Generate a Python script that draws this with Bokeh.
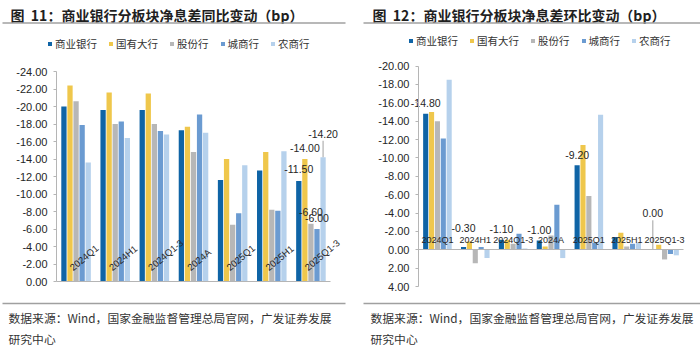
import numpy as np
from bokeh.plotting import figure
from bokeh.models import (Range1d, LinearAxis, FixedTicker, PrintfTickFormatter,
                          Legend, LegendItem)
from bokeh.layouts import row
from bokeh.embed import file_html
from bokeh.resources import INLINE
from bokeh.core.properties import value

# ---------------- data ----------------
categories = ["2024Q1", "2024H1", "2024Q1-3", "2024A", "2025Q1", "2025H1", "2025Q1-3"]
series_names = ["商业银行", "国有大行", "股份行", "城商行", "农商行"]

# 图11 同比变动 (bp)
yoy_commercial = [-20.0, -19.6, -19.6, -17.3, -11.6, -12.7, -11.5]
yoy_state = [-22.4, -21.6, -21.5, -17.7, -14.0, -14.8, -14.0]
yoy_joint = [-20.6, -18.0, -18.0, -14.8, -6.5, -8.2, -6.6]
yoy_city = [-17.9, -18.3, -17.2, -19.1, -7.8, -8.1, -6.0]
yoy_rural = [-13.6, -16.4, -16.8, -17.0, -13.3, -14.9, -14.2]

# 图12 环比变动 (bp)
qoq_commercial = [-14.8, -0.3, -1.1, -1.0, -9.2, -1.4, 0.0]
qoq_state = [-15.0, -0.9, -1.1, -0.35, -11.4, -1.85, -0.55]
qoq_joint = [-14.0, 1.45, -0.65, -1.55, -5.85, -0.35, 1.05]
qoq_city = [-12.1, -0.3, -1.75, -4.9, -0.8, -0.65, 0.45]
qoq_rural = [-18.5, 0.9, -0.15, 0.9, -14.7, -0.8, 0.6]

yoy_ticks = list(range(0, -26, -2))
qoq_ticks = list(range(4, -22, -2))

title_left = "图\u00a0\u00a011：商业银行分板块净息差同比变动（bp）"
title_right = "图\u00a0\u00a012：商业银行分板块净息差环比变动（bp）"
source_line1 = "数据来源：Wind，国家金融监督管理总局官网，广发证券发展"
source_line2 = "研究中心"

# ---------------- style ----------------
colors = ["#0f64a6", "#efc74c", "#b7b7b7", "#6b9bd1", "#b6d1ec"]
CJK = "Noto Sans CJK SC"
NUM = "Liberation Sans"
AXIS_COLOR = "#b5b5b5"
RULE_COLOR = "#a0a0a0"
TEXT_COLOR = "#262626"
DODGE = 0.155
BAR_W = 0.135
W, H = 350, 350


def make_chart(cfg):
    n = len(categories)
    gw = (cfg["right_px"] - cfg["axis_px"]) / n

    def gx(px):
        return (px - cfg["axis_px"]) / gw - 0.5

    def gy(py):
        return (py - cfg["zero_py"]) / cfg["ppu"]

    p = figure(width=W, height=H, x_range=Range1d(gx(0), gx(W)),
               y_range=Range1d(start=gy(H), end=gy(0)),
               x_axis_type=None, y_axis_type=None, toolbar_location=None,
               output_backend="svg", min_border=0, outline_line_color=None,
               background_fill_color="white", border_fill_color="white")
    p.xgrid.visible = False
    p.ygrid.visible = False

    idx = np.arange(n)
    renderers = []
    for k, vals in enumerate(cfg["series"]):
        r = p.vbar(x=idx + (k - 2) * DODGE, top=vals, bottom=0, width=BAR_W,
                   fill_color=colors[k], line_color=None)
        renderers.append(r)

    # value axis
    yaxis = LinearAxis(fixed_location=-0.5, bounds=(min(cfg["ticks"]), max(cfg["ticks"])),
                       ticker=FixedTicker(ticks=cfg["ticks"]),
                       formatter=PrintfTickFormatter(format="%.2f"))
    yaxis.axis_line_color = AXIS_COLOR
    yaxis.major_tick_line_color = AXIS_COLOR
    yaxis.major_tick_out = 3
    yaxis.major_tick_in = 0
    yaxis.minor_tick_line_color = None
    yaxis.major_label_standoff = 6
    yaxis.major_label_text_font = NUM
    yaxis.major_label_text_font_size = "11px"
    yaxis.major_label_text_color = TEXT_COLOR
    p.add_layout(yaxis, "left")

    # category axis (line at zero; labels above it)
    rotated = cfg["cat_angle"] != 0
    xaxis = LinearAxis(fixed_location=0, bounds=(-0.5, n - 0.5),
                       ticker=FixedTicker(ticks=[] if rotated else list(range(n))),
                       major_label_overrides={i: c for i, c in enumerate(categories)})
    xaxis.axis_line_color = AXIS_COLOR
    xaxis.major_tick_line_color = None
    xaxis.minor_tick_line_color = None
    xaxis.major_tick_out = 0
    xaxis.major_tick_in = 0
    xaxis.major_label_standoff = cfg["cat_standoff"]
    xaxis.major_label_text_font = NUM
    xaxis.major_label_text_font_size = "9px"
    xaxis.major_label_text_color = TEXT_COLOR
    p.add_layout(xaxis, "above")
    if rotated:
        p.text(x=idx + cfg["cat_dx"] / gw, y=[-cfg["cat_standoff"] / cfg["ppu"]] * n,
               text=categories, angle=cfg["cat_angle"], angle_units="deg",
               text_font=value(NUM), text_font_size="9.5px", text_align="left",
               text_baseline="middle", text_color=TEXT_COLOR)

    # data labels
    lx, ly, lt, lead_x, lead_y0, lead_y1 = [], [], [], [], [], []
    for (k, i, extra) in cfg["labels"]:
        v = cfg["series"][k][i]
        off = cfg["label_off"] + extra
        x = i + (k - 2) * DODGE
        lx.append(x)
        ly.append(v - off / cfg["ppu"])
        lt.append("%.2f" % v)
        if extra >= 10:
            lead_x.append(x)
            lead_y0.append(v - (off - 7) / cfg["ppu"])
            lead_y1.append(v)
    if lead_x:
        p.segment(x0=lead_x, y0=lead_y0, x1=lead_x, y1=lead_y1,
                  line_color=RULE_COLOR, line_width=1)
    p.text(x=lx, y=ly, text=lt, text_font=value(NUM), text_font_size="10.5px",
           text_align="center", text_baseline="middle", text_color=TEXT_COLOR)

    # legend
    legend = Legend(items=[LegendItem(label=nm, renderers=[r])
                           for nm, r in zip(series_names, renderers)],
                    orientation="horizontal", location=cfg["legend_loc"],
                    glyph_width=5, glyph_height=5, label_standoff=3, spacing=11,
                    padding=0, margin=0, label_height=12,
                    border_line_alpha=0, background_fill_alpha=0,
                    label_text_font=CJK, label_text_font_size="10.5px",
                    label_text_color="#333333")
    p.add_layout(legend)

    # title, rules and source note
    p.text(x=[gx(cfg["title_px"])], y=[gy(14)], text=[cfg["title"]],
           text_font=value(CJK), text_font_size="14px", text_font_style="bold",
           text_align="left", text_baseline="middle", text_color="#1f1f1f")
    for py in (22.5, 303):
        p.segment(x0=[gx(cfg["rule"][0])], y0=[gy(py)], x1=[gx(cfg["rule"][1])], y1=[gy(py)],
                  line_color=RULE_COLOR, line_width=1.6)
    p.text(x=[gx(cfg["src_px"])] * 2, y=[gy(317), gy(337.5)],
           text=[source_line1, source_line2], text_font=value(CJK),
           text_font_size="11.8px", text_align="left", text_baseline="middle",
           text_color="#333333")
    return p


left = make_chart(dict(
    series=[yoy_commercial, yoy_state, yoy_joint, yoy_city, yoy_rural],
    ticks=yoy_ticks, axis_px=56, right_px=330, zero_py=281, ppu=8.75,
    cat_angle=40, cat_dx=-5, cat_standoff=13, label_off=11.5,
    labels=[(0, 6, 0), (1, 6, 0), (2, 6, 0), (3, 6, 0), (4, 6, 12)],
    legend_loc=(47, 299), title=title_left, title_px=10, rule=(2, 345), src_px=8))

right = make_chart(dict(
    series=[qoq_commercial, qoq_state, qoq_joint, qoq_city, qoq_rural],
    ticks=qoq_ticks, axis_px=68, right_px=333, zero_py=249.3, ppu=9.19,
    cat_angle=0, cat_dx=0, cat_standoff=5, label_off=10.5,
    labels=[(0, 0, 0), (0, 1, 9), (0, 2, 0), (0, 3, 0), (0, 4, 0), (0, 6, 26)],
    legend_loc=(58, 302), title=title_right, title_px=22, rule=(13, 350), src_px=20))

layout = row(left, right)
open("out.html", "w").write(file_html(layout, INLINE))
